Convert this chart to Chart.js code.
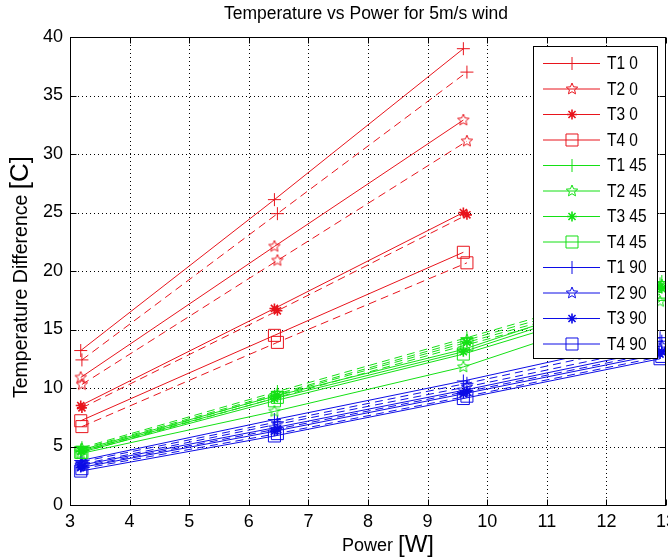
<!DOCTYPE html>
<html>
<head>
<meta charset="utf-8">
<script src="https://cdn.jsdelivr.net/npm/chart.js@4/dist/chart.umd.min.js"></script>
<style>
  html, body { margin: 0; padding: 0; background: #fff; }
  #wrap { width: 668px; height: 557px; }
</style>
</head>
<body>
<div id="wrap"><canvas id="c" width="668" height="557"></canvas></div>
<script>
// Heater power levels [W]
const powerSolid  = [3.18, 6.43, 9.60, 12.90];
const powerDashed = [3.20, 6.48, 9.66, 12.93];

const xTicks = [3, 4, 5, 6, 7, 8, 9, 10, 11, 12, 13];
const yTicks = [0, 5, 10, 15, 20, 25, 30, 35, 40];

const seriesNames = ['T1 0', 'T2 0', 'T3 0', 'T4 0',
                     'T1 45', 'T2 45', 'T3 45', 'T4 45',
                     'T1 90', 'T2 90', 'T3 90', 'T4 90'];

// Temperature difference [C], solid lines
const T1_0  = [13.2, 26.1, 39.0];
const T2_0  = [10.9, 22.1, 32.9];
const T3_0  = [8.5, 16.8, 25.0];
const T4_0  = [7.2, 14.5, 21.6];
const T1_45 = [4.7, 9.3, 13.3, 18.9];
const T2_45 = [4.4, 8.0, 11.8, 17.4];
const T3_45 = [4.6, 9.1, 13.1, 18.6];
const T4_45 = [4.5, 8.9, 12.9, 18.0];
const T1_90 = [3.8, 7.3, 10.6, 14.3];
const T2_90 = [3.4, 6.6, 9.8, 13.3];
const T3_90 = [3.2, 6.3, 9.5, 12.9];
const T4_90 = [2.9, 5.9, 9.1, 12.5];

// Temperature difference [C], dashed lines
const T1_0d  = [12.4, 24.9, 37.0];
const T2_0d  = [10.3, 20.9, 31.1];
const T3_0d  = [8.3, 16.6, 24.8];
const T4_0d  = [6.7, 13.9, 20.7];
const T1_45d = [4.9, 9.7, 14.3, 19.1];
const T2_45d = [4.8, 9.5, 14.1, 18.8];
const T3_45d = [4.6, 9.4, 13.9, 18.5];
const T4_45d = [4.5, 9.2, 13.7, 18.2];
const T1_90d = [3.7, 7.1, 10.4, 14.0];
const T2_90d = [3.5, 6.9, 10.1, 13.6];
const T3_90d = [3.3, 6.5, 9.7, 13.1];
const T4_90d = [3.1, 6.1, 9.3, 12.7];

const solidSeries  = [T1_0, T2_0, T3_0, T4_0, T1_45, T2_45, T3_45, T4_45, T1_90, T2_90, T3_90, T4_90];
const dashedSeries = [T1_0d, T2_0d, T3_0d, T4_0d, T1_45d, T2_45d, T3_45d, T4_45d, T1_90d, T2_90d, T3_90d, T4_90d];

const RED = '#e8141c', GREEN = '#14e014', BLUE = '#0c0ce6';
const groupColors = [RED, GREEN, BLUE];
const FONT = "'Liberation Sans', Arial, sans-serif";

// outlined five-point star used as a point style
function pentagram(color, r) {
  const s = Math.ceil(r * 2 + 4);
  const c = document.createElement('canvas');
  c.width = s; c.height = s;
  const g = c.getContext('2d');
  g.strokeStyle = color; g.lineWidth = 1;
  g.beginPath();
  for (let i = 0; i < 10; i++) {
    const a = -Math.PI / 2 + i * Math.PI / 5;
    const rr = i % 2 ? r * 0.45 : r;
    g.lineTo(s / 2 + rr * Math.cos(a), s / 2 + rr * Math.sin(a));
  }
  g.closePath(); g.stroke();
  return c;
}
const starImgs = groupColors.map(c => pentagram(c, 6));

function markerFor(k, group) {
  if (k === 0) return { style: 'cross', radius: 6.5, bw: 1 };
  if (k === 1) return { style: starImgs[group], radius: 6, bw: 1 };
  if (k === 2) return { style: 'star', radius: 5, bw: 1.6 };
  return { style: 'rect', radius: 8.5, bw: 1 };
}

function toPoints(xs, ys) { return ys.map((y, i) => ({ x: xs[i], y })); }

const datasets = [];
seriesNames.forEach((name, i) => {
  const group = Math.floor(i / 4), k = i % 4, col = groupColors[group];
  const m = markerFor(k, group);
  const base = {
    borderColor: col, backgroundColor: 'rgba(0,0,0,0)', borderWidth: 1,
    pointStyle: m.style, pointRadius: m.radius, pointBorderColor: col,
    pointBackgroundColor: 'rgba(0,0,0,0)', pointBorderWidth: m.bw,
    tension: 0, fill: false, _group: group, _kind: k
  };
  datasets.push(Object.assign({}, base, { label: name, data: toPoints(powerSolid, solidSeries[i]), _legend: true }));
  datasets.push(Object.assign({}, base, { label: name + ' (dashed)', data: toPoints(powerDashed, dashedSeries[i]), borderDash: [8, 5], _legend: false }));
});

function drawLegendMarker(ctx, k, group, x, y, col) {
  ctx.save();
  ctx.strokeStyle = col; ctx.lineWidth = 1; ctx.setLineDash([]);
  ctx.beginPath();
  if (k === 0) {
    ctx.moveTo(x - 6.5, y); ctx.lineTo(x + 6.5, y);
    ctx.moveTo(x, y - 6.5); ctx.lineTo(x, y + 6.5);
    ctx.stroke();
  } else if (k === 1) {
    const img = starImgs[group];
    ctx.drawImage(img, x - img.width / 2, y - img.height / 2);
  } else if (k === 2) {
    const r = 5, d = r * Math.SQRT1_2;
    ctx.lineWidth = 1.6;
    ctx.moveTo(x - r, y); ctx.lineTo(x + r, y);
    ctx.moveTo(x, y - r); ctx.lineTo(x, y + r);
    ctx.moveTo(x - d, y - d); ctx.lineTo(x + d, y + d);
    ctx.moveTo(x - d, y + d); ctx.lineTo(x + d, y - d);
    ctx.stroke();
  } else {
    const h = 8.5 * Math.SQRT1_2;
    ctx.rect(x - h, y - h, 2 * h, 2 * h);
    ctx.stroke();
  }
  ctx.restore();
}

// draws text squeezed horizontally by factor sx, anchored at (x, y) with given alignment
function squeezedText(ctx, text, x, y, sx, align) {
  ctx.save();
  ctx.translate(x, y);
  ctx.scale(sx, 1);
  ctx.textAlign = align;
  ctx.fillText(text, 0, 0);
  ctx.restore();
}

const axesDecor = {
  id: 'axesDecor',
  beforeDatasetsDraw(chart) {
    const { ctx, chartArea: a, scales: { x, y } } = chart;
    ctx.save();
    ctx.strokeStyle = '#000'; ctx.lineWidth = 1; ctx.setLineDash([1, 3]);
    ctx.beginPath();
    xTicks.slice(1, -1).forEach(v => { const px = Math.round(x.getPixelForValue(v)) + 0.5; ctx.moveTo(px, a.top); ctx.lineTo(px, a.bottom); });
    yTicks.slice(1, -1).forEach(v => { const py = Math.round(y.getPixelForValue(v)) + 0.5; ctx.moveTo(a.left, py); ctx.lineTo(a.right, py); });
    ctx.stroke();
    ctx.restore();
  },
  afterDatasetsDraw(chart) {
    const { ctx, chartArea: a, scales: { x, y } } = chart;
    ctx.save();
    ctx.strokeStyle = '#000'; ctx.lineWidth = 1; ctx.setLineDash([]);
    // frame
    const L = Math.round(a.left) + 0.5, R = Math.round(a.right) - 0.5, T = Math.round(a.top) + 0.5, B = Math.round(a.bottom) + 0.5;
    ctx.strokeRect(L, T, R - L, B - T);
    // inward ticks on all four sides
    const tl = 6;
    ctx.beginPath();
    xTicks.forEach(v => { const px = Math.round(x.getPixelForValue(v)) + 0.5; ctx.moveTo(px, B); ctx.lineTo(px, B - tl); ctx.moveTo(px, T); ctx.lineTo(px, T + tl); });
    yTicks.forEach(v => { const py = Math.round(y.getPixelForValue(v)) + 0.5; ctx.moveTo(L, py); ctx.lineTo(L + tl, py); ctx.moveTo(R, py); ctx.lineTo(R - tl, py); });
    ctx.stroke();

    // legend box
    const lx = 533.5, ly = 46.5, lw = 124, lh = 312;
    ctx.fillStyle = '#fff';
    ctx.fillRect(lx, ly, lw, lh);
    ctx.strokeRect(lx, ly, lw, lh);
    const items = chart.data.datasets.filter(d => d._legend);
    items.forEach((d, i) => {
      const yy = 63.5 + i * 25.5;
      const col = d.borderColor;
      ctx.strokeStyle = col; ctx.lineWidth = 1;
      ctx.beginPath(); ctx.moveTo(543, yy); ctx.lineTo(600, yy); ctx.stroke();
      drawLegendMarker(ctx, d._kind, d._group, 572, yy, col);
      ctx.fillStyle = '#000';
      ctx.font = '18px ' + FONT;
      ctx.textBaseline = 'middle';
      squeezedText(ctx, d.label, 607, yy + 1, 0.86, 'left');
    });
    ctx.restore();
  },
  afterDraw(chart) {
    const { ctx } = chart;
    ctx.save();
    ctx.fillStyle = '#000';
    ctx.textBaseline = 'middle';
    // title
    ctx.font = '17.5px ' + FONT;
    ctx.textAlign = 'center';
    ctx.fillText('Temperature vs Power for 5m/s wind', 366, 14);
    // x axis title
    ctx.textAlign = 'left';
    const p1 = 'Power ', p2 = '[W]';
    ctx.font = '18px ' + FONT; const w1 = ctx.measureText(p1).width;
    ctx.font = '24px ' + FONT; const w2 = ctx.measureText(p2).width;
    let sx = 388 - (w1 + w2) / 2;
    ctx.font = '18px ' + FONT; ctx.fillText(p1, sx, 546);
    ctx.font = '24px ' + FONT; ctx.fillText(p2, sx + w1, 545);
    // y axis title
    const q1 = 'Temperature Difference ', q2 = '[C]';
    ctx.translate(22, 277);
    ctx.rotate(-Math.PI / 2);
    ctx.font = '19.5px ' + FONT; const v1 = ctx.measureText(q1).width;
    ctx.font = '26px ' + FONT; const v2 = ctx.measureText(q2).width;
    const st = -(v1 + v2) / 2;
    ctx.font = '19.5px ' + FONT; ctx.fillText(q1, st, 0);
    ctx.font = '26px ' + FONT; ctx.fillText(q2, st + v1, -1);
    ctx.restore();
  }
};

new Chart(document.getElementById('c'), {
  type: 'line',
  data: { datasets },
  options: {
    responsive: false,
    animation: false,
    devicePixelRatio: 1,
    layout: { autoPadding: false, padding: { top: 37, right: 2, left: 0, bottom: 0 } },
    plugins: { legend: { display: false }, title: { display: false }, tooltip: { enabled: false } },
    scales: {
      x: {
        type: 'linear', min: 3, max: 13,
        afterBuildTicks: s => { s.ticks = xTicks.map(v => ({ value: v })); },
        grid: { display: false, drawTicks: false },
        border: { display: false },
        ticks: { color: '#000', font: { family: FONT, size: 18 }, padding: 6, maxRotation: 0, autoSkip: false },
        afterFit: s => { s.height = 52; s.paddingLeft = 0; s.paddingRight = 0; }
      },
      y: {
        type: 'linear', min: 0, max: 40,
        afterBuildTicks: s => { s.ticks = yTicks.map(v => ({ value: v })); },
        grid: { display: false, drawTicks: false },
        border: { display: false },
        ticks: { color: '#000', font: { family: FONT, size: 18 }, padding: 7, autoSkip: false },
        afterFit: s => { s.width = 70; s.paddingTop = 0; s.paddingBottom = 0; }
      }
    }
  },
  plugins: [axesDecor]
});
</script>
</body>
</html>
